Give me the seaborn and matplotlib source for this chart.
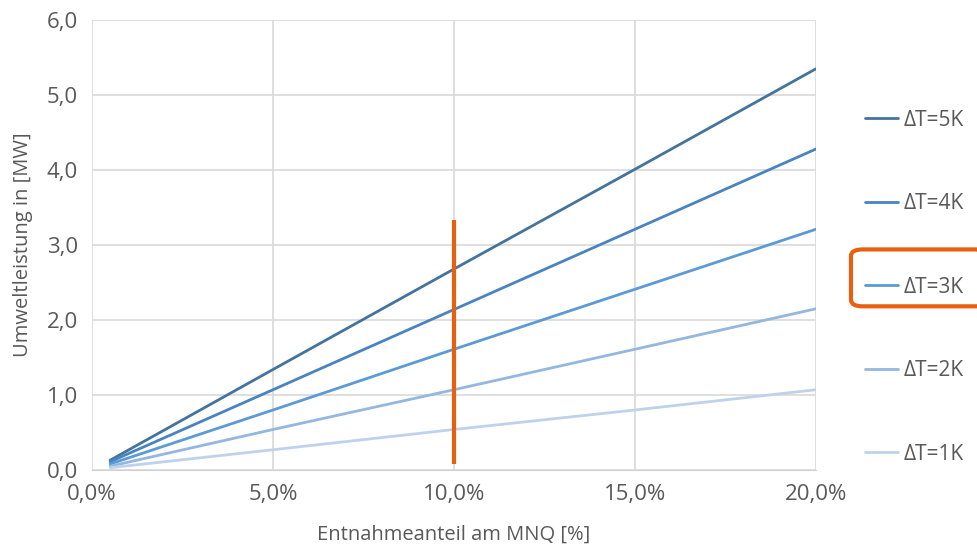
import matplotlib
matplotlib.use("Agg")
import matplotlib.pyplot as plt
from matplotlib.patches import FancyBboxPatch
from matplotlib.lines import Line2D
from matplotlib.ticker import FuncFormatter, MultipleLocator
import seaborn as sns
import pandas as pd

# values
anteil = [0.5, 5.0, 10.0, 15.0, 20.0]  # Entnahmeanteil am MNQ in %
dt5 = [0.13, 1.34, 2.68, 4.01, 5.35]
dt4 = [0.11, 1.07, 2.14, 3.21, 4.28]
dt3 = [0.08, 0.80, 1.61, 2.41, 3.21]
dt2 = [0.05, 0.54, 1.07, 1.61, 2.15]
dt1 = [0.03, 0.27, 0.54, 0.80, 1.07]
labels = ["ΔT=5K", "ΔT=4K", "ΔT=3K", "ΔT=2K", "ΔT=1K"]
colors = ["#44739e", "#4a84c0", "#5b9bd5", "#94b7e0", "#bfd2ec"]
marker_x = 10.0
marker_y = [0.08, 3.33]

rows = []
for lab, vals in zip(labels, [dt5, dt4, dt3, dt2, dt1]):
    for x, y in zip(anteil, vals):
        rows.append({"anteil": x, "leistung": y, "serie": lab})
df = pd.DataFrame(rows)

sns.set_style("white")
plt.rcParams["font.family"] = ["Open Sans", "DejaVu Sans"]
grey = "#595959"

fig = plt.figure(figsize=(9.77, 5.47), dpi=100)
ax = fig.add_axes([0.0942, 0.1408, 0.7410, 0.8226])

sns.lineplot(data=df, x="anteil", y="leistung", hue="serie", hue_order=labels,
             palette=colors, linewidth=2, ax=ax, legend=False)
ax.plot([marker_x, marker_x], marker_y, color="#e8600e", linewidth=3, solid_capstyle="butt")

ax.set_xlim(0, 20)
ax.set_ylim(0, 6)
ax.xaxis.set_major_locator(MultipleLocator(5))
ax.yaxis.set_major_locator(MultipleLocator(1))
ax.xaxis.set_major_formatter(FuncFormatter(lambda v, p: f"{v:.1f}%".replace(".", ",")))
ax.yaxis.set_major_formatter(FuncFormatter(lambda v, p: f"{v:.1f}".replace(".", ",")))
ax.grid(True, color="#d9d9d9", linewidth=1.2)
ax.set_axisbelow(True)
for s in ["top", "right", "left"]:
    ax.spines[s].set_visible(False)
ax.spines["bottom"].set_color("#d0d0d0")
ax.tick_params(length=0, labelsize=16, colors=grey, pad=10)
ax.set_xlabel("Entnahmeanteil am MNQ [%]", fontsize=14.5, color=grey, labelpad=14)
ax.set_ylabel("Umweltleistung in [MW]", fontsize=14.5, color=grey, labelpad=10)

handles = [Line2D([], [], color=c, linewidth=2) for c in colors]
leg = fig.legend(handles, labels, loc="center left", bbox_to_anchor=(0.866, 0.475),
                 frameon=False, fontsize=15, handlelength=1.6, handletextpad=0.25,
                 labelspacing=3.0)
for t in leg.get_texts():
    t.set_color(grey)

box = FancyBboxPatch((0.871, 0.440), 0.14, 0.104, transform=fig.transFigure,
                     boxstyle="round,pad=0,rounding_size=0.012", fill=False,
                     edgecolor="#e8600e", linewidth=3, clip_on=False)
fig.patches.append(box)

fig.savefig("out.png", dpi=100)
